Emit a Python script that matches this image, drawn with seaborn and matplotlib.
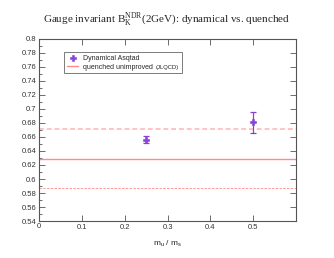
import numpy as np
import pandas as pd
import matplotlib
matplotlib.use("Agg")
import matplotlib.pyplot as plt
import seaborn as sns
from matplotlib.patches import Rectangle
from matplotlib.ticker import MultipleLocator

# Dynamical Asqtad points
mass_ratio = [0.25, 0.5]
bk_dyn = [0.656, 0.681]
bk_err = [0.005, 0.015]

# quenched unimproved (JLQCD): central value and band edges
bk_quenched = 0.629
bk_band_hi = 0.671
bk_band_lo = 0.587

sns.set_style("ticks")
plt.rcParams["font.family"] = ["Liberation Sans", "DejaVu Sans"]
plt.rcParams["mathtext.fontset"] = "custom"
plt.rcParams["mathtext.rm"] = "Liberation Serif"

purple = "#8a3fd8"
pink = "#ff8a8a"
grey = "#555555"

fig = plt.figure(figsize=(3.34, 2.58), dpi=100)
ax = fig.add_axes([0.117, 0.143, 0.769, 0.707])

df = pd.DataFrame({"x": mass_ratio, "y": bk_dyn, "err": bk_err})

ax.axhline(bk_band_hi, color="#ffc4c4", lw=1.4, ls=(0, (2.5, 1.5)), zorder=1)
ax.axhline(bk_band_lo, color=pink, lw=0.6, ls=(0, (3, 1.5)), zorder=1)
qline = ax.axhline(bk_quenched, color=pink, lw=1.0, zorder=1)
ax.errorbar(df["x"], df["y"], yerr=df["err"], fmt="none", ecolor=purple,
            elinewidth=0.9, capsize=2.5, capthick=0.9, zorder=2)
sns.scatterplot(data=df, x="x", y="y", ax=ax, marker="P", s=18,
                color=purple, edgecolor=purple, linewidth=0.4,
                legend=False, zorder=3)
pts = ax.collections[-1]

ax.set_xlim(0, 0.6)
ax.set_ylim(0.54, 0.8)
ax.yaxis.set_minor_locator(MultipleLocator(0.01))
ax.set_xticks([0.1, 0.2, 0.3, 0.4, 0.5])
ax.set_xticklabels(["0.1", "0.2", "0.3", "0.4", "0.5"])
yt = np.round(np.arange(0.54, 0.801, 0.02), 2)
ax.set_yticks(yt)
ax.set_yticklabels([f"{v:g}" for v in yt])
ax.text(0, -0.012, "0", transform=ax.get_xaxis_transform(), ha="center",
        va="top", fontsize=5.5, color="#333333")

ax.tick_params(axis="both", which="major", direction="in", length=4,
               width=0.6, color=grey, labelsize=5.5, labelcolor="#333333",
               top=True, right=True, pad=2)
ax.tick_params(axis="y", which="minor", direction="in", length=2,
               width=0.6, color=grey, left=True, right=False)
for sp in ax.spines.values():
    sp.set_color(grey)
    sp.set_linewidth(0.8)

ax.set_xlabel("$\\mathregular{m_u}$ / $\\mathregular{m_s}$", fontsize=6, labelpad=6)
ax.set_ylabel("")

leg = ax.legend([pts, qline], ["Dynamical Asqtad", "quenched unimproved"],
                loc="upper left", bbox_to_anchor=(0.085, 0.945), fontsize=5,
                frameon=False, borderpad=0.4,
                handlelength=1.6, labelspacing=0.25, handletextpad=0.7)
leg.set_zorder(6)

# smaller "(JLQCD)" after the second entry, frame drawn round both
fig.canvas.draw()
inv = fig.transFigure.inverted()
bb = leg.get_texts()[1].get_window_extent()
x0, y0 = inv.transform((bb.x1 + 3, (bb.y0 + bb.y1) / 2))
jl = fig.text(x0, y0, "(JLQCD)", fontsize=4.2, color="#222222",
              ha="left", va="center", zorder=7)
fig.canvas.draw()
lb = leg.get_window_extent()
jb = jl.get_window_extent()
(fx0, fy0) = inv.transform((lb.x0, lb.y0))
(fx1, fy1) = inv.transform((jb.x1 + 3, lb.y1))
ax.add_artist(Rectangle((fx0, fy0), fx1 - fx0, fy1 - fy0,
                        transform=fig.transFigure, fill=True,
                        facecolor="white", edgecolor="#666666", lw=0.6,
                        zorder=5, clip_on=False))

fig.text(0.5, 0.925,
         "Gauge invariant $\\mathrm{B}_\\mathrm{K}^\\mathrm{NDR}$(2GeV): dynamical vs. quenched",
         ha="center", va="center", fontsize=8, family="Liberation Serif")

fig.savefig("out.png", dpi=100)
